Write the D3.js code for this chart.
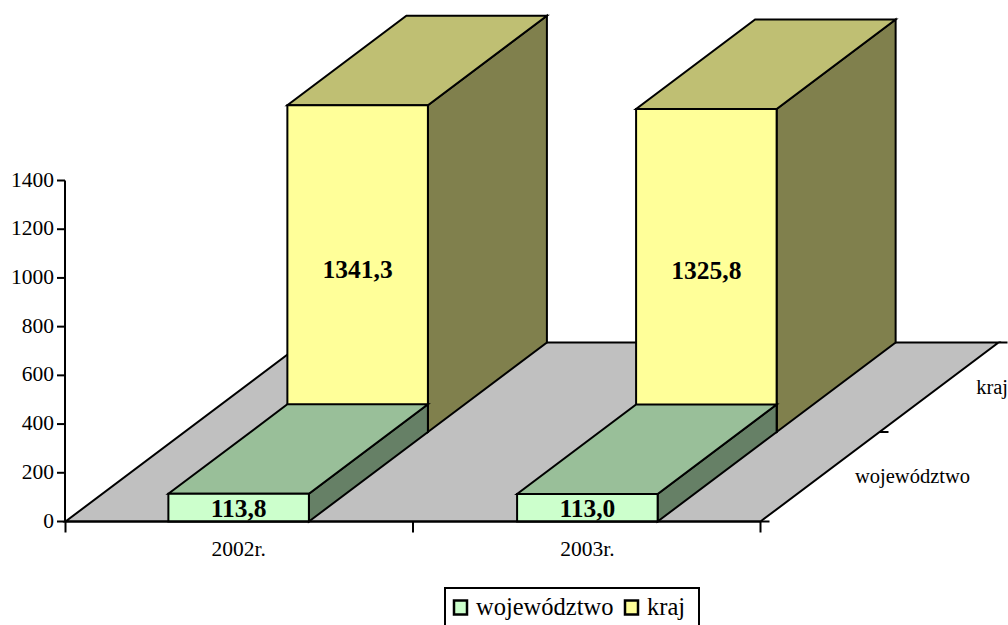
<!DOCTYPE html>
<html>
<head>
<meta charset="utf-8">
<script src="https://cdn.jsdelivr.net/npm/d3@7"></script>
<style>
  html, body { margin: 0; padding: 0; background: #fff; overflow: hidden; }
  text { font-family: "Liberation Serif", serif; fill: #000; }
</style>
</head>
<body>
<div id="chart"></div>
<script>
const categories = ["2002r.", "2003r."];
const seriesNames = ["województwo", "kraj"];
const wojewodztwo = [113.8, 113.0];
const kraj = [1341.3, 1325.8];
const yTicks = [0, 200, 400, 600, 800, 1000, 1200, 1400];

const width = 1008;
const height = 625;

const frontColors = ["#CCFFCC", "#FFFF99"];
const topColors = ["#99BF99", "#BFBF73"];
const sideColors = ["#668066", "#80804D"];

const svg = d3.select("#chart").append("svg")
    .attr("width", width)
    .attr("height", height)
    .style("display", "block");

const x = d3.scaleBand()
    .domain(categories)
    .range([65.5, 760.5])
    .paddingInner(0.597)
    .paddingOuter(0.295);

// category boundaries for the ticks under the floor
const xEdge = d3.scaleLinear().domain([0, categories.length]).range([65.5, 760.5]);

const y = d3.scaleLinear().domain([0, 1400]).range([521.5, 180.5]);

// depth axis: position 0 is the front of the floor, 2 is the back
const depthX = d3.scaleLinear().domain([0, 2]).range([0, 238]);
const depthY = d3.scaleLinear().domain([0, 2]).range([0, -179]);

const pt = (px, py, d) => [px + depthX(d), py + depthY(d)];
const line = pts => "M" + pts.map(p => p.join(",")).join("L") + "Z";

// Floor
svg.append("path")
    .attr("d", line([pt(xEdge(0), y(0), 0), pt(xEdge(2), y(0), 0), pt(xEdge(2), y(0), 2), pt(xEdge(0), y(0), 2)]))
    .attr("fill", "#C0C0C0")
    .attr("stroke", "#000")
    .attr("stroke-width", 2);

// Back row first, then the front row on top of it
[1, 0].forEach(s => {
    const values = s === 0 ? wojewodztwo : kraj;
    const g = svg.append("g");
    categories.forEach((c, i) => {
        const x0 = x(c);
        const x1 = x0 + x.bandwidth();
        const y0 = y(0);
        const yv = y(values[i]);
        const stroke = sel => sel.attr("stroke", "#000").attr("stroke-width", 2).attr("stroke-linejoin", "miter");

        g.append("path")
            .attr("d", line([pt(x1, y0, s), pt(x1, y0, s + 1), pt(x1, yv, s + 1), pt(x1, yv, s)]))
            .attr("fill", sideColors[s])
            .call(stroke);
        g.append("path")
            .attr("d", line([pt(x0, yv, s), pt(x1, yv, s), pt(x1, yv, s + 1), pt(x0, yv, s + 1)]))
            .attr("fill", topColors[s])
            .call(stroke);
        g.append("path")
            .attr("d", line([pt(x0, y0, s), pt(x1, y0, s), pt(x1, yv, s), pt(x0, yv, s)]))
            .attr("fill", frontColors[s])
            .call(stroke);
    });
});

// Value labels, drawn last so the front bars do not cover them
[1, 0].forEach(s => {
    const values = s === 0 ? wojewodztwo : kraj;
    categories.forEach((c, i) => {
        const p = pt(x(c) + x.bandwidth() / 2, (y(0) + y(values[i])) / 2, s);
        svg.append("text")
            .attr("x", p[0])
            .attr("y", p[1])
            .attr("dy", "0.35em")
            .attr("text-anchor", "middle")
            .attr("font-size", 25.5)
            .attr("font-weight", "bold")
            .text(values[i].toFixed(1).replace(".", ","));
    });
});

// Y axis
svg.append("g")
    .attr("transform", "translate(65,0)")
    .call(d3.axisLeft(y).offset(0).tickValues(yTicks).tickSize(8).tickSizeOuter(0).tickPadding(3).tickFormat(d3.format("d")))
    .call(g => g.select(".domain").attr("stroke", "#000").attr("stroke-width", 2))
    .call(g => g.selectAll(".tick line").attr("stroke", "#000").attr("stroke-width", 2))
    .call(g => g.selectAll("text").attr("font-size", 21.5).attr("dy", "0.28em"))
    .attr("font-family", null);

// X axis line and ticks
svg.append("line")
    .attr("x1", xEdge(0)).attr("x2", xEdge(categories.length))
    .attr("y1", y(0)).attr("y2", y(0))
    .attr("stroke", "#000").attr("stroke-width", 2);

svg.append("g")
    .selectAll("line")
    .data(d3.range(categories.length + 1))
    .join("line")
    .attr("x1", d => xEdge(d)).attr("x2", d => xEdge(d))
    .attr("y1", y(0)).attr("y2", y(0) + 11)
    .attr("stroke", "#000").attr("stroke-width", 2);

svg.append("g")
    .selectAll("text")
    .data(categories)
    .join("text")
    .attr("x", d => x(d) + x.bandwidth() / 2)
    .attr("y", 556)
    .attr("text-anchor", "middle")
    .attr("font-size", 21.5)
    .text(d => d);

// Depth axis ticks and labels
svg.append("g")
    .selectAll("line")
    .data([0, 1, 2])
    .join("line")
    .attr("x1", d => pt(xEdge(2), y(0), d)[0]).attr("x2", d => pt(xEdge(2), y(0), d)[0] + 9)
    .attr("y1", d => pt(xEdge(2), y(0), d)[1]).attr("y2", d => pt(xEdge(2), y(0), d)[1])
    .attr("stroke", "#000").attr("stroke-width", 2);

svg.append("g")
    .selectAll("text")
    .data(seriesNames)
    .join("text")
    .attr("x", (d, i) => i === 0 ? 970 : 1008)
    .attr("y", (d, i) => i === 0 ? 483 : 394)
    .attr("text-anchor", "end")
    .attr("font-size", 20.5)
    .text(d => d);

// Legend
const legend = svg.append("g");
legend.append("rect")
    .attr("x", 445).attr("y", 588)
    .attr("width", 254).attr("height", 40)
    .attr("fill", "#fff").attr("stroke", "#000").attr("stroke-width", 2);

const legendSwatchX = [454, 625];
const legendTextX = [476, 647];
seriesNames.forEach((name, i) => {
    legend.append("rect")
        .attr("x", legendSwatchX[i]).attr("y", 600.5)
        .attr("width", 13).attr("height", 14)
        .attr("fill", frontColors[i]).attr("stroke", "#000").attr("stroke-width", 2.5);
    legend.append("text")
        .attr("x", legendTextX[i]).attr("y", 615)
        .attr("font-size", 24.5)
        .text(name);
});
</script>
</body>
</html>
